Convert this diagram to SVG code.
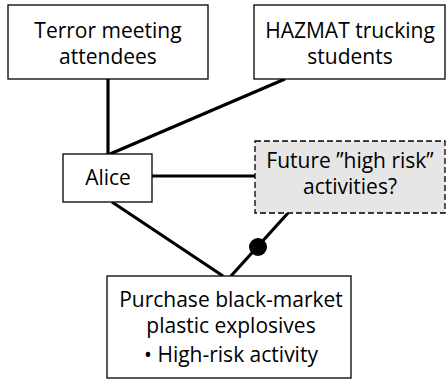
<svg xmlns="http://www.w3.org/2000/svg" width="446" height="381" viewBox="0 0 446 381">
<style>
.box{fill:#fff;stroke:#000;stroke-width:1.3}
.dash{fill:#e6e6e6;stroke:#000;stroke-width:1.3;stroke-dasharray:6 3}
.t{font-family:"Open Sans","Noto Sans",sans-serif;font-size:21px;fill:#000;text-anchor:middle}
.c{stroke:#000;stroke-width:3.2;fill:none}
</style>
<rect width="446" height="381" fill="#fff"/>
<g id="connectors">
<line class="c" x1="108" y1="79" x2="108" y2="154"/>
<line class="c" x1="285" y1="79" x2="110" y2="154"/>
<line class="c" x1="152" y1="176" x2="255" y2="176"/>
<line class="c" x1="112" y1="202" x2="223" y2="276"/>
<line class="c" x1="288" y1="213" x2="231" y2="276"/>
<circle cx="258" cy="247" r="9" fill="#000"/>
</g>
<g id="terror">
<rect class="box" x="8" y="5" width="200" height="74"/>
<text class="t" x="108" y="37.5">Terror meeting</text>
<text class="t" x="108" y="63.8">attendees</text>
</g>
<g id="hazmat">
<rect class="box" x="254" y="5" width="191" height="74"/>
<text class="t" x="350" y="37.5">HAZMAT trucking</text>
<text class="t" x="350" y="63.8">students</text>
</g>
<g id="alice">
<rect class="box" x="63" y="154" width="89" height="48"/>
<text class="t" x="108" y="185">Alice</text>
</g>
<g id="future">
<rect class="dash" x="255" y="141" width="190" height="72"/>
<text class="t" x="350" y="167.5">Future ”high risk”</text>
<text class="t" x="350" y="193.8">activities?</text>
</g>
<g id="purchase">
<rect class="box" x="107" y="276" width="244" height="102"/>
<text class="t" x="231" y="307">Purchase black-market</text>
<text class="t" x="231" y="333">plastic explosives</text>
<text class="t" x="231" y="362">• High-risk activity</text>
</g>
</svg>
